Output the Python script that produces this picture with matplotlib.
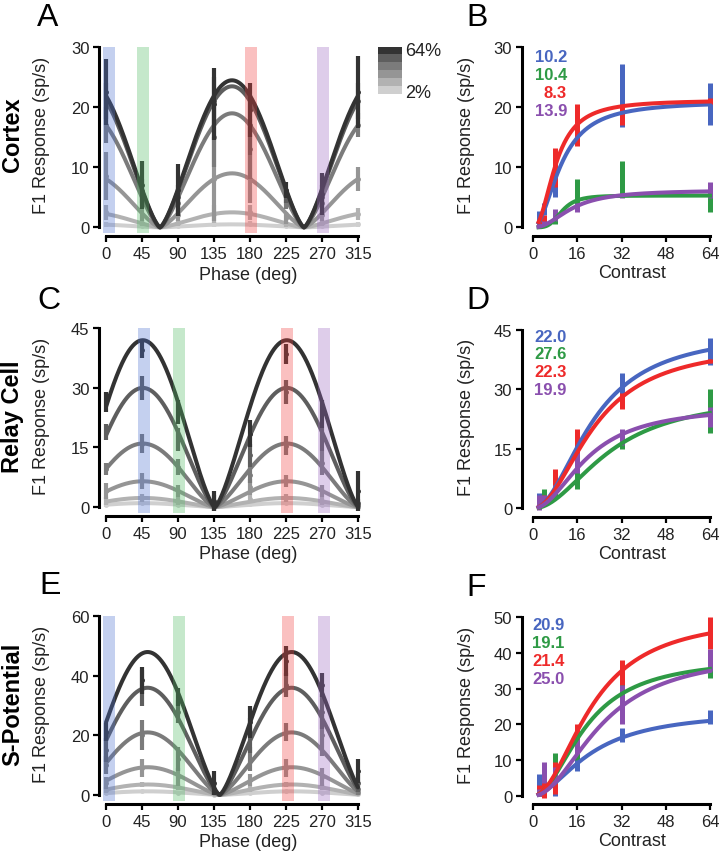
import numpy as np
import matplotlib
matplotlib.use('Agg')
import matplotlib.pyplot as plt

plt.rcParams['font.family'] = ['Liberation Sans', 'DejaVu Sans']

W, H = 722, 853

# ---- shared axes values
phases = [0, 45, 90, 135, 180, 225, 270, 315]
contrasts = [2, 4, 8, 16, 32, 64]
contrast_names = ['2%', '4%', '8%', '16%', '32%', '64%']
grays = ['#cfcfcf', '#b2b2b2', '#959595', '#7b7b7b', '#5e5e5e', '#333333']
band_names = ['blue', 'green', 'red', 'purple']
band_colors = ['#4a6fd0', '#4cb860', '#f03c3c', '#9a66c0']
line_colors = ['#4866c0', '#2e9a45', '#ee2a2a', '#8a4fae']

# ---- A: cortex, response vs phase (rows = 2% .. 64%)
cortex_mean = [
    [0.5, 0.2, 0.2, 0.5, 0.6, 0.2, 0.2, 0.5],
    [2.5, 0.8, 0.8, 2.2, 2.5, 0.6, 0.8, 2.2],
    [8.5, 2.0, 2.0, 8.0, 8.0, 1.5, 2.0, 8.0],
    [17.0, 5.0, 4.0, 15.0, 13.0, 4.0, 4.0, 17.0],
    [21.0, 6.0, 5.0, 21.0, 17.0, 5.0, 5.0, 21.0],
    [22.5, 7.0, 6.2, 20.5, 19.5, 6.2, 5.5, 22.5],
]
cortex_err = [
    [0.4, 0.2, 0.2, 0.4, 0.4, 0.2, 0.2, 0.4],
    [1.2, 0.5, 0.5, 1.5, 1.2, 0.5, 0.5, 1.0],
    [4.0, 1.0, 1.0, 7.0, 4.0, 1.0, 1.0, 2.0],
    [3.0, 2.0, 2.0, 5.0, 5.0, 1.0, 2.0, 2.0],
    [3.0, 2.0, 2.0, 4.0, 5.0, 1.0, 2.0, 3.0],
    [5.5, 4.0, 4.3, 6.0, 4.5, 1.3, 3.5, 6.0],
]
cortex_amp = [0.5, 2.5, 9.0, 19.0, 23.5, 24.5]
cortex_peak = 157.5
cortex_bands = [3.5, 46.5, 181.5, 271.5]

# ---- C: relay cell
relay_mean = [
    [0.6, 1.0, 0.6, 0.1, 0.8, 1.0, 0.6, 0.1],
    [1.5, 2.3, 1.5, 0.1, 2.0, 2.3, 1.5, 0.1],
    [4.0, 6.5, 4.0, 0.3, 5.0, 6.5, 4.0, 0.3],
    [9.5, 16.0, 10.0, 0.5, 8.0, 15.5, 11.0, 0.5],
    [19.0, 30.0, 17.0, 1.0, 13.0, 29.0, 17.0, 1.0],
    [26.5, 39.5, 24.0, 1.5, 18.5, 38.5, 23.5, 4.0],
]
relay_err = [
    [0.5, 0.5, 0.5, 0.2, 0.5, 0.5, 0.5, 0.2],
    [1.0, 1.0, 1.0, 0.3, 1.0, 1.0, 1.0, 0.3],
    [2.0, 2.0, 1.5, 0.5, 2.0, 1.5, 1.5, 0.3],
    [1.5, 2.5, 2.0, 1.0, 2.0, 2.5, 3.0, 0.5],
    [2.0, 3.0, 3.0, 2.0, 3.0, 3.0, 3.0, 1.0],
    [2.5, 2.0, 3.0, 2.5, 3.5, 2.5, 3.5, 5.0],
]
relay_amp = [1.0, 2.3, 6.5, 16.0, 30.0, 42.0]
relay_peak = 46.0
relay_bands = [47.7, 91.6, 226.0, 272.5]

# ---- E: S-potential
spot_mean = [
    [0.6, 1.2, 0.8, 0.1, 0.6, 1.2, 0.8, 0.2],
    [1.5, 3.5, 2.5, 0.2, 2.0, 3.5, 2.5, 0.5],
    [4.0, 9.0, 6.0, 0.5, 5.0, 9.0, 6.0, 1.0],
    [10.0, 20.0, 12.0, 1.0, 12.0, 21.0, 20.0, 2.0],
    [15.0, 36.0, 28.0, 2.0, 20.0, 37.0, 28.0, 4.0],
    [21.0, 38.5, 33.0, 4.0, 24.5, 45.0, 37.0, 8.0],
]
spot_err = [
    [0.5, 0.5, 0.5, 0.1, 0.5, 0.5, 0.5, 0.2],
    [1.0, 1.0, 1.0, 0.2, 1.0, 1.0, 1.0, 0.5],
    [2.0, 3.0, 3.0, 0.5, 2.0, 3.0, 3.0, 1.0],
    [3.0, 5.0, 4.0, 1.0, 4.0, 3.0, 7.0, 2.0],
    [4.0, 6.0, 4.0, 2.0, 6.0, 4.0, 6.0, 3.0],
    [3.0, 4.5, 3.0, 4.0, 5.5, 5.0, 4.0, 4.0],
]
spot_amp = [1.2, 3.5, 9.3, 21.0, 36.0, 48.0]
spot_peak = 52.0
spot_bands = [3.5, 91.6, 227.0, 272.5]

phase_exp = 1.4

# ---- B / D / F: response vs contrast (order: blue, green, red, purple)
cortex_c_mean = [
    [1.5, 3.0, 9.0, 16.0, 22.0, 20.5],
    [0.5, 0.5, 1.2, 5.5, 8.0, 4.5],
    [0.5, 1.0, 10.0, 17.0, 18.5, 21.0],
    [0.3, 0.5, 2.0, 3.3, 5.2, 6.2],
]
cortex_c_err = [
    [1.2, 1.0, 4.0, 2.3, 5.3, 3.5],
    [0.5, 0.5, 0.7, 2.5, 3.0, 2.0],
    [0.5, 1.0, 3.3, 3.5, 1.5, 0.5],
    [0.3, 0.5, 1.0, 0.8, 0.3, 1.3],
]
cortex_c50 = [10.2, 10.4, 8.3, 13.9]
cortex_rmax = [21.0, 5.3, 21.2, 6.2]
cortex_n = [2.0, 4.0, 2.2, 2.2]

relay_c_mean = [
    [2.0, 2.5, 6.0, 16.0, 30.5, 39.5],
    [1.0, 3.5, 3.5, 8.5, 17.0, 24.5],
    [1.0, 2.0, 7.5, 17.0, 27.0, 37.0],
    [1.5, 2.5, 5.0, 11.5, 18.0, 23.0],
]
relay_c_err = [
    [2.0, 1.0, 1.5, 3.0, 3.5, 3.5],
    [1.0, 1.5, 1.2, 3.5, 2.0, 5.5],
    [1.0, 1.5, 2.5, 3.0, 2.0, 0.5],
    [2.0, 1.0, 1.0, 2.5, 2.0, 2.5],
]
relay_c50 = [22.0, 27.6, 22.3, 19.9]
relay_rmax = [44.7, 28.5, 41.5, 25.8]
relay_n = [2.0, 2.0, 2.0, 2.0]

spot_c_mean = [
    [3.0, 2.0, 2.5, 10.5, 17.0, 22.0],
    [0.5, 1.0, 8.5, 13.0, 31.5, 35.5],
    [1.5, 3.5, 5.0, 17.5, 34.5, 45.5],
    [1.0, 6.5, 6.0, 14.0, 25.5, 38.0],
]
spot_c_err = [
    [3.0, 1.0, 2.5, 3.5, 2.0, 2.0],
    [0.5, 1.0, 3.5, 3.0, 1.5, 2.5],
    [1.5, 4.0, 4.5, 2.5, 3.5, 4.5],
    [1.0, 3.0, 2.0, 2.0, 5.5, 3.0],
]
spot_c50 = [20.9, 19.1, 21.4, 25.0]
spot_rmax = [23.8, 38.7, 50.6, 40.3]
spot_n = [1.8, 2.0, 2.0, 2.0]


def px_axes(fig, left, top, right, bottom):
    return fig.add_axes([left / W, 1 - bottom / H, (right - left) / W, (bottom - top) / H])


def style_axes(ax, xbounds, ybounds, left_out, bottom_out):
    for s in ['top', 'right']:
        ax.spines[s].set_visible(False)
    ax.spines['left'].set_position(('outward', left_out))
    ax.spines['bottom'].set_position(('outward', bottom_out))
    ax.spines['left'].set_bounds(*ybounds)
    ax.spines['bottom'].set_bounds(*xbounds)
    for s in ['left', 'bottom']:
        ax.spines[s].set_linewidth(2.2)
    ax.tick_params(direction='out', length=4, width=1.6, labelsize=12,
                   labelcolor='#222222', pad=3)


def phase_panel(ax, mean, err, amp, peak, bands, yticks):
    x = np.linspace(0, 315, 500)
    for i in range(len(contrasts)):
        y = amp[i] * np.abs(np.cos(np.radians(x - peak))) ** phase_exp
        ax.plot(x, y, color=grays[i], lw=2.9, zorder=2 + i, solid_capstyle='round')
        ax.errorbar(phases, mean[i], yerr=err[i], fmt='o', ms=2.5, color=grays[i],
                    elinewidth=3, capsize=0, zorder=2 + i, clip_on=False)
    for c, col in zip(bands, band_colors):
        ax.axvspan(c - 7.5, c + 7.5, color=col, alpha=0.32, lw=0, zorder=20)
    ax.set_xlim(-4, 319)
    ax.set_ylim(-yticks[-1] * 0.033, yticks[-1])
    ax.set_xticks(phases)
    ax.set_yticks(yticks)
    style_axes(ax, (0, 315), (0, yticks[-1]), 2.7, 2.2)
    ax.set_xlabel('Phase (deg)', fontsize=13, color='#222222')
    ax.set_ylabel('F1 Response (sp/s)', fontsize=13, color='#222222')
    ax.xaxis.set_label_coords(0.562, -0.175)
    ax.yaxis.set_label_coords(-0.205, 0.53)


def contrast_panel(ax, mean, err, rmax, c50, nexp, yticks):
    c = np.linspace(2, 64, 300)
    for i in range(4):
        y = rmax[i] * c ** nexp[i] / (c ** nexp[i] + c50[i] ** nexp[i])
        ax.plot(c, y, color=line_colors[i], lw=2.9, zorder=3)
        ax.errorbar(contrasts, mean[i], yerr=err[i], fmt='none', ecolor=line_colors[i],
                    elinewidth=3.6, capsize=0, zorder=2, clip_on=False)
    ax.set_xlim(-1.5, 66)
    ax.set_ylim(-yticks[-1] * 0.033, yticks[-1])
    ax.set_xticks([0, 16, 32, 48, 64])
    ax.set_yticks(yticks)
    style_axes(ax, (0, 64), (0, yticks[-1]), 5.0, 1.8)
    ax.set_xlabel('Contrast', fontsize=13, color='#222222')
    ax.set_ylabel('F1 Response (sp/s)', fontsize=13, color='#222222')
    ax.xaxis.set_label_coords(0.555, -0.165)
    ax.yaxis.set_label_coords(-0.29, 0.53)


fig = plt.figure(figsize=(W / 100, H / 100), dpi=100)

axA = px_axes(fig, 102.8, 48.3, 361.2, 234.3)
phase_panel(axA, cortex_mean, cortex_err, cortex_amp, cortex_peak, cortex_bands, [0, 10, 20, 30])
axC = px_axes(fig, 102.8, 329.3, 361.2, 514.0)
phase_panel(axC, relay_mean, relay_err, relay_amp, relay_peak, relay_bands, [0, 15, 30, 45])
axE = px_axes(fig, 102.8, 617.3, 361.2, 801.8)
phase_panel(axE, spot_mean, spot_err, spot_amp, spot_peak, spot_bands, [0, 20, 40, 60])

axB = px_axes(fig, 528.9, 48.3, 715.5, 234.3)
contrast_panel(axB, cortex_c_mean, cortex_c_err, cortex_rmax, cortex_c50, cortex_n, [0, 10, 20, 30])
axD = px_axes(fig, 528.9, 330.7, 715.5, 515.3)
contrast_panel(axD, relay_c_mean, relay_c_err, relay_rmax, relay_c50, relay_n, [0, 15, 30, 45])
axF = px_axes(fig, 528.9, 618.3, 715.5, 802.7)
contrast_panel(axF, spot_c_mean, spot_c_err, spot_rmax, spot_c50, spot_n, [0, 10, 20, 30, 40, 50])

# c50 values
for vals, x0, y0, ha in [(cortex_c50, 567, 58, 'right'),
                         (relay_c50, 534, 337, 'left'),
                         (spot_c50, 532, 625, 'left')]:
    for k, v in enumerate(vals):
        fig.text(x0 / W, 1 - (y0 + 18 * k) / H, f'{v:.1f}', color=line_colors[k],
                 fontsize=12, fontweight='bold', ha=ha, va='center')

# contrast legend in A
axL = px_axes(fig, 378, 48, 402, 95)
axL.imshow(np.array([[matplotlib.colors.to_rgb(g)] for g in grays[::-1]]), aspect='auto')
axL.axis('off')
fig.text(405 / W, 1 - 51 / H, contrast_names[-1], fontsize=13, color='#222222', va='center')
fig.text(405 / W, 1 - 93 / H, contrast_names[0], fontsize=13, color='#222222', va='center')

# panel letters
for lab, x, y in [('A', 37, 3), ('B', 466, 3), ('C', 37, 286), ('D', 466, 286),
                  ('E', 39, 571), ('F', 466, 573)]:
    fig.text(x / W, 1 - y / H, lab, fontsize=23, va='top', ha='left')

# row labels
for lab, y in [('Cortex', 135), ('Relay Cell', 417), ('S-Potential', 704)]:
    fig.text(13 / W, 1 - y / H, lab, fontsize=17, fontweight='bold', rotation=90,
             ha='center', va='center')

fig.savefig('out.png', dpi=100)
